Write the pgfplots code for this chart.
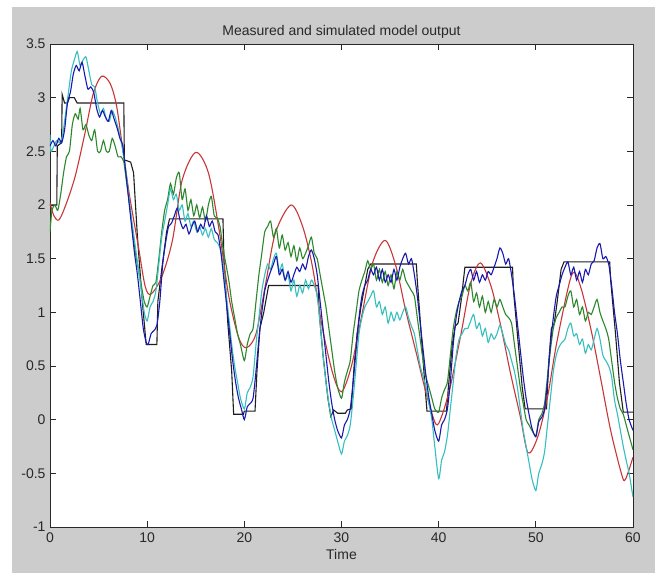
\documentclass[border=0pt]{standalone}
\usepackage{pgfplots}
\pgfplotsset{compat=1.18}
\usepackage{fontspec}
\setmainfont{Liberation Sans}
\definecolor{figgray}{RGB}{204,204,204}
\definecolor{axcol}{RGB}{40,40,40}
\definecolor{mblue}{RGB}{25,25,175}
\definecolor{mgreen}{RGB}{45,135,45}
\definecolor{mred}{RGB}{200,55,55}
\definecolor{mcyan}{RGB}{55,190,190}
\definecolor{mblack}{RGB}{30,30,30}
\begin{document}
\begin{tikzpicture}[x=1pt,y=1pt]
\fill[white] (0,0) rectangle (657,575);
\fill[figgray] (12,2) rectangle (655,568);
\begin{axis}[
  at={(50pt,48pt)}, anchor=south west,
  scale only axis, width=583pt, height=483pt,
  xmin=0, xmax=60, ymin=-1, ymax=3.5,
  enlargelimits=false,
  axis background/.style={fill=white},
  axis line style={axcol, line width=0.9pt},
  tick style={axcol, line width=0.9pt},
  tick align=inside, major tick length=6pt,
  xtick={0,10,...,60},
  ytick={-1,-0.5,0,0.5,1,1.5,2,2.5,3,3.5},
  /pgf/number format/assume math mode=true,
  /pgf/number format/fixed,
  ticklabel style={font=\fontsize{14}{16}\selectfont, text=axcol},
  xticklabel style={anchor=base, yshift=-16pt},
  yticklabel style={anchor=east, xshift=-1pt},
  title={Measured and simulated model output},
  title style={font=\fontsize{14}{16}\selectfont, text=axcol, at={(0.5,1)}, anchor=base, yshift=2pt},
  xlabel={Time},
  xlabel style={font=\fontsize{14}{16}\selectfont, text=axcol, at={(axis description cs:0.5,0)}, anchor=base, yshift=-33pt},
  every axis plot/.append style={line width=1.1pt},
]
% measured (black)
\addplot[mblack] coordinates {
(0,2.0)(0.7,2.0)(0.75,2.55)(1.2,2.58)(1.25,3.03)(1.5,2.95)(1.8,2.95)(2.0,3.0)(2.5,3.0)(2.8,2.95)(7.6,2.95)
(7.65,2.42)(8.3,2.4)(8.6,2.3)(9.0,1.7)(9.5,1.1)(9.9,0.7)(11.0,0.7)(11.1,1.1)(11.5,1.4)(12.0,1.75)(12.3,1.87)
(17.8,1.87)(17.9,1.5)(18.3,0.9)(18.7,0.45)(18.9,0.05)(19.9,0.05)(20.0,0.08)(21.1,0.08)(21.3,0.45)(21.6,0.85)(22.0,1.0)(22.5,1.25)
(27.6,1.25)(27.7,1.0)(28.1,0.6)(28.6,0.2)(28.9,0.03)(29.2,0.09)(29.6,0.06)(30.4,0.06)(30.6,0.09)(31.0,0.1)
(31.3,0.5)(31.6,0.8)(32.0,1.05)(32.3,1.2)(32.7,1.4)(33.0,1.45)(37.7,1.45)(37.8,1.3)(38.2,0.8)(38.6,0.3)(38.8,0.08)(40.8,0.08)
(41.0,0.3)(41.4,0.7)(41.7,0.87)(42.0,0.9)(42.3,1.1)(42.7,1.42)(47.6,1.42)(47.7,1.2)(48.2,0.7)(48.6,0.3)(48.9,0.1)(51.1,0.1)
(51.3,0.5)(51.6,0.85)(51.9,0.9)(52.2,1.1)(52.6,1.4)(52.9,1.47)(57.6,1.47)(57.7,1.3)(58.2,0.8)(58.6,0.35)(59.0,0.07)(60.0,0.07)
};
% red
\addplot[mred, smooth] coordinates {
(0,2.02)(0.4,1.9)(0.9,1.86)(1.54,1.98)(2.57,2.26)(3.6,2.67)(4.46,3.04)(5.32,3.2)(6.2,3.13)(6.86,2.92)(7.5,2.51)(8.2,2.08)(9.1,1.61)(9.8,1.24)(10.4,1.17)
(11.5,1.33)(12.6,1.67)(13.6,2.23)(15.0,2.49)(16.3,2.3)(17.4,1.77)(18.4,1.15)(19.4,0.77)(20.2,0.67)
(21.2,0.8)(22.2,1.27)(23.2,1.74)(24.8,2.0)(26.0,1.8)(27.0,1.43)(28.0,0.87)(29.1,0.43)(30.0,0.26)
(31.0,0.49)(32.0,0.93)(33.2,1.46)(34.5,1.67)(35.6,1.43)(36.6,1.02)(37.7,0.62)(38.7,0.25)(39.7,-0.04)
(40.3,0.03)(41.2,0.31)(42.3,0.8)(43.3,1.27)(44.3,1.46)(45.4,1.24)(46.4,0.87)(47.4,0.43)(48.4,0.03)(49.2,-0.31)
(50.2,-0.16)(51.2,0.21)(52.2,0.74)(53.7,1.35)(54.6,1.24)(55.7,0.83)(56.7,0.37)(57.7,-0.1)(58.8,-0.5)(59.2,-0.56)(60,-0.35)
};
% green
\addplot[mgreen, smooth, tension=0.4] coordinates {
(0,1.75)(0.2,1.95)(0.5,2.0)(0.8,1.95)(1.1,2.1)(1.4,2.3)(1.7,2.45)(2.0,2.5)(2.3,2.75)(2.6,2.85)(2.9,2.8)(3.1,2.9)(3.4,2.7)(3.7,2.75)
(4.0,2.65)(4.3,2.6)(4.6,2.7)(4.9,2.5)(5.2,2.5)(5.5,2.6)(5.8,2.5)(6.1,2.5)(6.4,2.62)(6.7,2.55)(7.0,2.45)(7.3,2.45)(7.6,2.4)
(7.9,2.2)(8.2,2.0)(8.5,1.75)(8.8,1.55)(9.1,1.4)(9.4,1.25)(9.7,1.1)(10.0,1.05)(10.3,1.15)(10.6,1.25)(10.9,1.28)
(11.2,1.5)(11.5,1.75)(11.8,1.95)(12.1,2.05)(12.4,2.2)(12.7,2.1)(13.0,2.25)(13.3,2.3)(13.6,2.05)(13.9,2.15)(14.2,1.95)(14.5,2.05)
(14.8,1.9)(15.1,2.0)(15.4,1.88)(15.7,1.98)(16.0,1.85)(16.3,2.0)(16.6,2.08)(16.9,1.9)(17.2,1.88)(17.5,1.8)(17.8,1.6)
(18.1,1.45)(18.4,1.3)(18.7,1.1)(19.0,0.95)(19.3,0.8)(19.6,0.7)(20.0,0.55)(20.3,0.7)(20.6,0.8)(20.9,0.85)
(21.2,1.1)(21.5,1.35)(21.8,1.55)(22.1,1.75)(22.4,1.8)(22.7,1.85)(23.0,1.7)(23.3,1.78)(23.6,1.6)(23.9,1.72)(24.2,1.58)(24.5,1.65)
(24.8,1.52)(25.1,1.62)(25.4,1.48)(25.7,1.6)(26.0,1.5)(26.3,1.55)(26.6,1.62)(26.9,1.7)(27.2,1.55)(27.5,1.5)(27.8,1.35)
(28.1,1.2)(28.4,1.05)(28.7,0.85)(29.0,0.65)(29.3,0.45)(29.6,0.3)(30.0,0.2)(30.3,0.35)(30.6,0.45)(30.9,0.55)
(31.2,0.8)(31.5,1.0)(31.8,1.2)(32.1,1.3)(32.4,1.38)(32.7,1.48)(33.0,1.4)(33.3,1.45)(33.6,1.3)(33.9,1.4)(34.2,1.28)(34.5,1.38)
(34.8,1.25)(35.1,1.35)(35.4,1.22)(35.7,1.38)(36.0,1.3)(36.3,1.4)(36.6,1.3)(36.9,1.25)(37.2,1.2)(37.5,1.15)(37.8,0.95)
(38.1,0.75)(38.4,0.55)(38.7,0.4)(39.0,0.3)(39.3,0.2)(39.6,0.1)(40.0,0.07)(40.3,0.2)(40.6,0.28)(40.9,0.35)
(41.2,0.6)(41.5,0.85)(41.8,1.0)(42.1,1.1)(42.4,1.15)(42.7,1.25)(43.0,1.2)(43.3,1.28)(43.6,1.1)(43.9,1.18)(44.2,1.05)(44.5,1.15)
(44.8,1.0)(45.1,1.1)(45.4,1.0)(45.7,1.12)(46.0,1.05)(46.3,1.12)(46.6,1.05)(46.9,0.98)(47.2,0.95)(47.5,0.9)(47.8,0.7)
(48.1,0.5)(48.4,0.3)(48.7,0.15)(49.0,0.0)(49.3,-0.05)(49.6,-0.1)(50.0,-0.15)(50.3,0.0)(50.6,0.05)(50.9,0.15)
(51.2,0.4)(51.5,0.65)(51.8,0.85)(52.1,0.95)(52.4,1.0)(52.7,1.05)(53.0,1.05)(53.3,1.15)(53.6,1.2)(53.9,1.05)(54.2,1.12)(54.5,0.98)
(54.8,1.05)(55.1,0.92)(55.4,1.0)(55.7,0.98)(56.0,1.05)(56.3,1.12)(56.6,1.0)(56.9,0.92)(57.2,0.85)(57.5,0.75)(57.8,0.55)
(58.1,0.35)(58.4,0.2)(58.7,0.1)(59.0,0.05)(59.3,-0.05)(59.6,-0.15)(60.0,-0.28)
};
% cyan
\addplot[mcyan, smooth, tension=0.4] coordinates {
(0,2.65)(0.1,2.5)(0.4,2.55)(0.7,2.6)(1.0,2.58)(1.3,2.65)(1.6,2.85)(1.9,3.05)(2.2,3.25)(2.5,3.35)(2.8,3.43)(3.1,3.3)(3.4,3.35)(3.7,3.38)
(4.0,3.25)(4.3,3.12)(4.6,3.1)(4.9,2.95)(5.2,2.85)(5.5,2.9)(5.8,2.8)(6.1,2.78)(6.4,2.88)(6.7,2.82)(7.0,2.72)(7.3,2.6)(7.6,2.45)
(7.9,2.25)(8.2,2.0)(8.5,1.8)(8.8,1.6)(9.1,1.4)(9.4,1.2)(9.7,1.0)(10.0,0.92)(10.3,1.05)(10.6,1.1)(10.9,1.2)
(11.2,1.45)(11.5,1.7)(11.8,1.85)(12.1,2.0)(12.4,2.15)(12.7,2.05)(13.0,2.1)(13.3,1.95)(13.6,2.0)(13.9,1.85)(14.2,1.92)(14.5,1.8)
(14.8,1.85)(15.1,1.75)(15.4,1.8)(15.7,1.72)(16.0,1.78)(16.3,1.7)(16.6,1.78)(16.9,1.68)(17.2,1.65)(17.5,1.6)(17.8,1.45)
(18.1,1.2)(18.4,0.95)(18.7,0.7)(19.0,0.5)(19.3,0.35)(19.6,0.2)(20.0,0.1)(20.3,0.25)(20.6,0.3)(20.9,0.4)
(21.2,0.7)(21.5,0.95)(21.8,1.2)(22.1,1.35)(22.4,1.45)(22.7,1.4)(23.0,1.5)(23.3,1.55)(23.6,1.38)(23.9,1.45)(24.2,1.3)(24.5,1.35)
(24.8,1.2)(25.1,1.3)(25.4,1.15)(25.7,1.25)(26.0,1.18)(26.3,1.3)(26.6,1.22)(26.9,1.3)(27.2,1.25)(27.5,1.15)(27.8,0.9)
(28.1,0.6)(28.4,0.35)(28.7,0.15)(29.0,0.0)(29.3,-0.1)(29.6,-0.2)(30.0,-0.32)(30.3,-0.2)(30.6,-0.15)(30.9,-0.05)
(31.2,0.2)(31.5,0.5)(31.8,0.8)(32.1,0.95)(32.4,1.05)(32.7,1.1)(33.0,1.15)(33.3,1.2)(33.6,1.05)(33.9,1.1)(34.2,0.98)(34.5,1.05)
(34.8,0.9)(35.1,1.0)(35.4,0.92)(35.7,1.0)(36.0,0.93)(36.3,1.0)(36.6,1.05)(36.9,0.95)(37.2,0.87)(37.5,0.8)(37.8,0.65)
(38.1,0.5)(38.4,0.4)(38.7,0.3)(39.0,0.15)(39.3,0.0)(39.6,-0.25)(40.0,-0.55)(40.3,-0.38)(40.6,-0.3)(40.9,-0.15)
(41.2,0.1)(41.5,0.35)(41.8,0.6)(42.1,0.75)(42.4,0.8)(42.7,0.85)(43.0,0.85)(43.3,0.92)(43.6,0.98)(43.9,0.85)(44.2,0.9)(44.5,0.78)
(44.8,0.85)(45.1,0.72)(45.4,0.8)(45.7,0.75)(46.0,0.8)(46.3,0.88)(46.6,0.8)(46.9,0.7)(47.2,0.65)(47.5,0.55)(47.8,0.45)
(48.1,0.3)(48.4,0.1)(48.7,-0.1)(49.0,-0.25)(49.3,-0.4)(49.6,-0.55)(50.0,-0.66)(50.3,-0.5)(50.6,-0.42)(50.9,-0.3)
(51.2,-0.05)(51.5,0.2)(51.8,0.45)(52.1,0.6)(52.4,0.68)(52.7,0.72)(53.0,0.75)(53.3,0.85)(53.6,0.9)(53.9,0.78)(54.2,0.8)(54.5,0.7)
(54.8,0.75)(55.1,0.62)(55.4,0.7)(55.7,0.65)(56.0,0.75)(56.3,0.85)(56.6,0.75)(56.9,0.6)(57.2,0.55)(57.5,0.5)(57.8,0.4)
(58.1,0.18)(58.4,0.05)(58.7,-0.1)(59.0,-0.25)(59.3,-0.38)(59.6,-0.5)(60.0,-0.72)
};
% blue
\addplot[mblue, smooth, tension=0.4] coordinates {
(0,2.55)(0.3,2.6)(0.6,2.55)(0.9,2.62)(1.2,2.58)(1.5,2.7)(1.8,2.95)(2.1,3.05)(2.4,3.22)(2.7,3.3)(3.0,3.25)(3.3,3.33)(3.6,3.2)
(3.9,3.08)(4.2,3.1)(4.5,3.05)(4.8,2.9)(5.1,2.82)(5.4,2.88)(5.7,2.82)(6.0,2.78)(6.3,2.88)(6.6,2.8)(6.9,2.72)(7.2,2.62)(7.5,2.55)
(7.8,2.3)(8.1,2.05)(8.4,1.8)(8.7,1.55)(9.0,1.35)(9.3,1.1)(9.6,0.85)(9.9,0.72)(10.1,0.7)(10.4,0.8)(10.7,0.83)(11.0,0.88)
(11.3,1.1)(11.6,1.45)(11.9,1.65)(12.2,1.8)(12.5,1.83)(12.8,1.9)(13.1,1.97)(13.4,1.85)(13.7,1.78)(14.0,1.82)(14.3,1.73)(14.6,1.8)
(14.9,1.85)(15.2,1.75)(15.5,1.82)(15.8,1.78)(16.1,1.9)(16.4,1.8)(16.7,1.85)(17.0,1.75)(17.3,1.72)(17.6,1.55)
(17.9,1.3)(18.2,1.05)(18.5,0.8)(18.8,0.55)(19.1,0.35)(19.4,0.2)(19.7,0.1)(20.0,0.0)(20.3,0.12)(20.6,0.15)(20.9,0.2)
(21.2,0.45)(21.5,0.75)(21.8,1.0)(22.1,1.2)(22.4,1.3)(22.7,1.38)(23.0,1.45)(23.3,1.52)(23.6,1.35)(23.9,1.4)(24.2,1.3)(24.5,1.38)
(24.8,1.28)(25.1,1.35)(25.4,1.42)(25.7,1.38)(26.0,1.45)(26.3,1.4)(26.6,1.52)(26.9,1.58)(27.2,1.5)(27.5,1.35)
(27.8,1.1)(28.1,0.85)(28.4,0.6)(28.7,0.35)(29.0,0.15)(29.3,0.0)(29.6,-0.1)(30.0,-0.17)(30.3,-0.05)(30.6,0.0)(30.9,0.1)
(31.2,0.35)(31.5,0.65)(31.8,0.95)(32.1,1.15)(32.4,1.25)(32.7,1.3)(33.0,1.4)(33.3,1.35)(33.6,1.42)(33.9,1.3)(34.2,1.4)(34.5,1.28)
(34.8,1.35)(35.1,1.28)(35.4,1.4)(35.7,1.3)(36.0,1.42)(36.3,1.5)(36.6,1.55)(36.9,1.45)(37.2,1.5)(37.5,1.35)
(37.8,1.15)(38.1,0.9)(38.4,0.65)(38.7,0.4)(39.0,0.2)(39.3,0.05)(39.6,-0.1)(40.0,-0.2)(40.3,-0.05)(40.6,0.0)(40.9,0.1)
(41.2,0.35)(41.5,0.7)(41.8,0.95)(42.1,1.1)(42.4,1.2)(42.7,1.25)(43.0,1.35)(43.3,1.4)(43.6,1.3)(43.9,1.38)(44.2,1.28)(44.5,1.35)
(44.8,1.3)(45.1,1.38)(45.4,1.35)(45.7,1.42)(46.0,1.5)(46.3,1.6)(46.6,1.55)(46.9,1.45)(47.2,1.5)(47.5,1.35)
(47.8,1.15)(48.1,0.9)(48.4,0.65)(48.7,0.4)(49.0,0.2)(49.3,0.05)(49.6,-0.08)(50.0,-0.16)(50.3,-0.02)(50.6,0.02)(50.9,0.1)
(51.2,0.35)(51.5,0.7)(51.8,0.95)(52.1,1.15)(52.4,1.25)(52.7,1.35)(53.0,1.42)(53.3,1.47)(53.6,1.35)(53.9,1.42)(54.2,1.3)(54.5,1.38)
(54.8,1.28)(55.1,1.4)(55.4,1.35)(55.7,1.45)(56.0,1.48)(56.3,1.6)(56.6,1.64)(56.9,1.5)(57.2,1.52)(57.5,1.45)
(57.8,1.25)(58.1,1.0)(58.4,0.8)(58.7,0.55)(59.0,0.35)(59.3,0.15)(59.6,0.0)(60.0,-0.1)
};
\end{axis}
\end{tikzpicture}
\end{document}
